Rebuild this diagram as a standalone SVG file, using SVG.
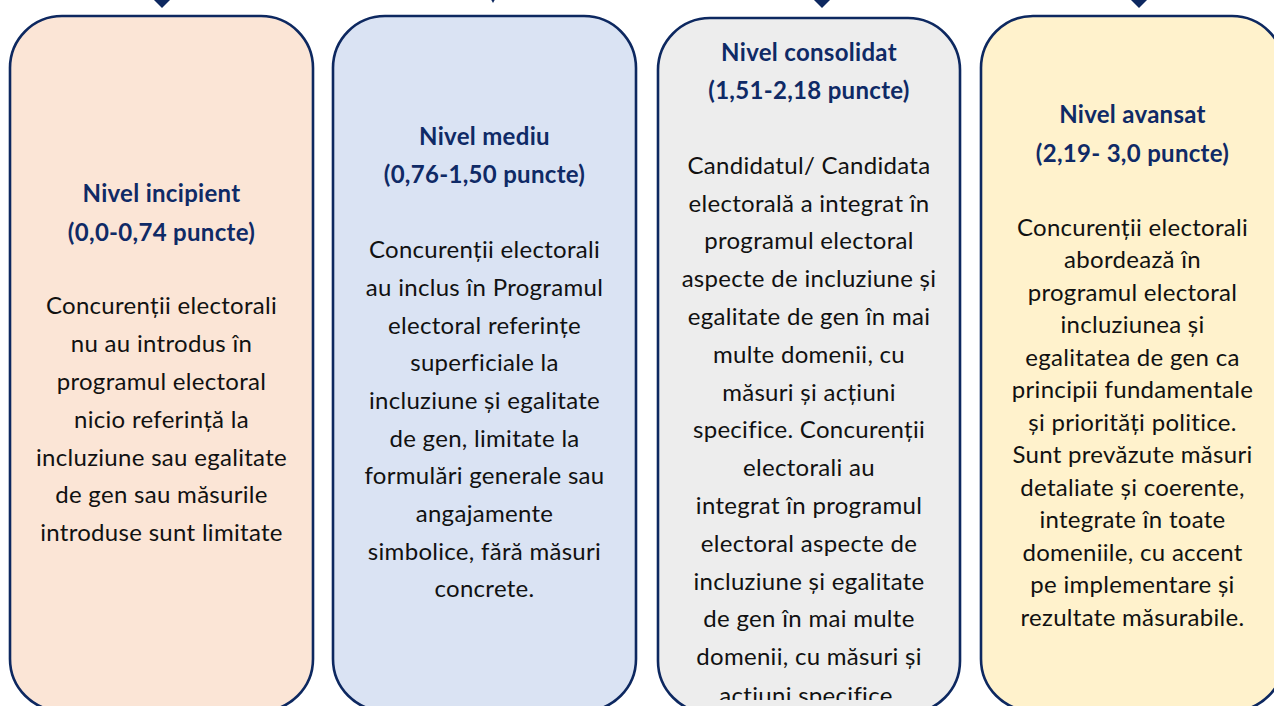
<svg xmlns="http://www.w3.org/2000/svg" width="1274" height="706" viewBox="0 0 1274 706">
<style>
.box{stroke:#0d2860;stroke-width:2.6}
.t{font-family:Lato,"Liberation Sans",sans-serif;font-size:24px;letter-spacing:0.3px;text-anchor:middle}
.h{font-weight:bold;fill:#0f2a66}
.b{fill:#111111}
.arr{fill:#0d2860}
</style>
<defs>
<clipPath id="clip3"><rect x="650" y="0" width="320" height="700"/></clipPath>
</defs>
<rect width="1274" height="706" fill="#ffffff"/>
<g id="connectors">
<polygon class="arr" points="154,0 170,0 162,8"/>
<polygon class="arr" points="489,-4 497,-4 493,3"/>
<polygon class="arr" points="814,0 830,0 822,8"/>
<polygon class="arr" points="1131,0 1147,0 1139,8"/>
</g>
<g id="node-incipient">
<rect class="box" x="10" y="16" width="303" height="695" rx="52" ry="52" fill="#fbe5d6"/>
<text class="t h" x="161.5" y="201.5">Nivel incipient</text>
<text class="t h" x="161.5" y="240.5">(0,0-0,74 puncte)</text>
<text class="t b" x="161.5" y="313.5">Concurenții electorali</text>
<text class="t b" x="161.5" y="351.5">nu au introdus în</text>
<text class="t b" x="161.5" y="389.5">programul electoral</text>
<text class="t b" x="161.5" y="427.5">nicio referință la</text>
<text class="t b" x="161.5" y="465.5">incluziune sau egalitate</text>
<text class="t b" x="161.5" y="503">de gen sau măsurile</text>
<text class="t b" x="161.5" y="540.5">introduse sunt limitate</text>
</g>
<g id="node-mediu">
<rect class="box" x="333" y="16" width="303" height="695" rx="52" ry="52" fill="#dae3f3"/>
<text class="t h" x="484.5" y="144.5">Nivel mediu</text>
<text class="t h" x="484.5" y="182.5">(0,76-1,50 puncte)</text>
<text class="t b" x="484.5" y="257.5">Concurenții electorali</text>
<text class="t b" x="484.5" y="295.5">au inclus în Programul</text>
<text class="t b" x="484.5" y="333.5">electoral referințe</text>
<text class="t b" x="484.5" y="370.5">superficiale la</text>
<text class="t b" x="484.5" y="408.5">incluziune și egalitate</text>
<text class="t b" x="484.5" y="446.5">de gen, limitate la</text>
<text class="t b" x="484.5" y="483.5">formulări generale sau</text>
<text class="t b" x="484.5" y="521.5">angajamente</text>
<text class="t b" x="484.5" y="559.5">simbolice, fără măsuri</text>
<text class="t b" x="484.5" y="596.5">concrete.</text>
</g>
<g id="node-consolidat">
<rect class="box" x="658" y="18" width="302" height="695" rx="52" ry="52" fill="#ededed"/>
<text class="t h" x="809" y="60.5">Nivel consolidat</text>
<text class="t h" x="809" y="98.5">(1,51-2,18 puncte)</text>
<g clip-path="url(#clip3)">
<text class="t b" x="809" y="173.5">Candidatul/ Candidata</text>
<text class="t b" x="809" y="211.5">electorală a integrat în</text>
<text class="t b" x="809" y="249">programul electoral</text>
<text class="t b" x="809" y="287">aspecte de incluziune și</text>
<text class="t b" x="809" y="325">egalitate de gen în mai</text>
<text class="t b" x="809" y="363">multe domenii, cu</text>
<text class="t b" x="809" y="400.5">măsuri și acțiuni</text>
<text class="t b" x="809" y="438">specifice. Concurenții</text>
<text class="t b" x="809" y="476">electorali au</text>
<text class="t b" x="809" y="513.5">integrat în programul</text>
<text class="t b" x="809" y="551.5">electoral aspecte de</text>
<text class="t b" x="809" y="589.5">incluziune și egalitate</text>
<text class="t b" x="809" y="627">de gen în mai multe</text>
<text class="t b" x="809" y="665">domenii, cu măsuri și</text>
<text class="t b" x="809" y="704">acțiuni specifice.</text>
</g>
</g>
<g id="node-avansat">
<rect class="box" x="981" y="16" width="303" height="695" rx="52" ry="52" fill="#fff2cc"/>
<text class="t h" x="1132.5" y="122.5">Nivel avansat</text>
<text class="t h" x="1132.5" y="161.5">(2,19- 3,0 puncte)</text>
<text class="t b" x="1132.5" y="235.5">Concurenții electorali</text>
<text class="t b" x="1132.5" y="268">abordează în</text>
<text class="t b" x="1132.5" y="300.5">programul electoral</text>
<text class="t b" x="1132.5" y="333">incluziunea și</text>
<text class="t b" x="1132.5" y="365.5">egalitatea de gen ca</text>
<text class="t b" x="1132.5" y="398">principii fundamentale</text>
<text class="t b" x="1132.5" y="430.5">și priorități politice.</text>
<text class="t b" x="1132.5" y="463">Sunt prevăzute măsuri</text>
<text class="t b" x="1132.5" y="495.5">detaliate și coerente,</text>
<text class="t b" x="1132.5" y="528">integrate în toate</text>
<text class="t b" x="1132.5" y="560.5">domeniile, cu accent</text>
<text class="t b" x="1132.5" y="593">pe implementare și</text>
<text class="t b" x="1132.5" y="625.5">rezultate măsurabile.</text>
</g>
</svg>
